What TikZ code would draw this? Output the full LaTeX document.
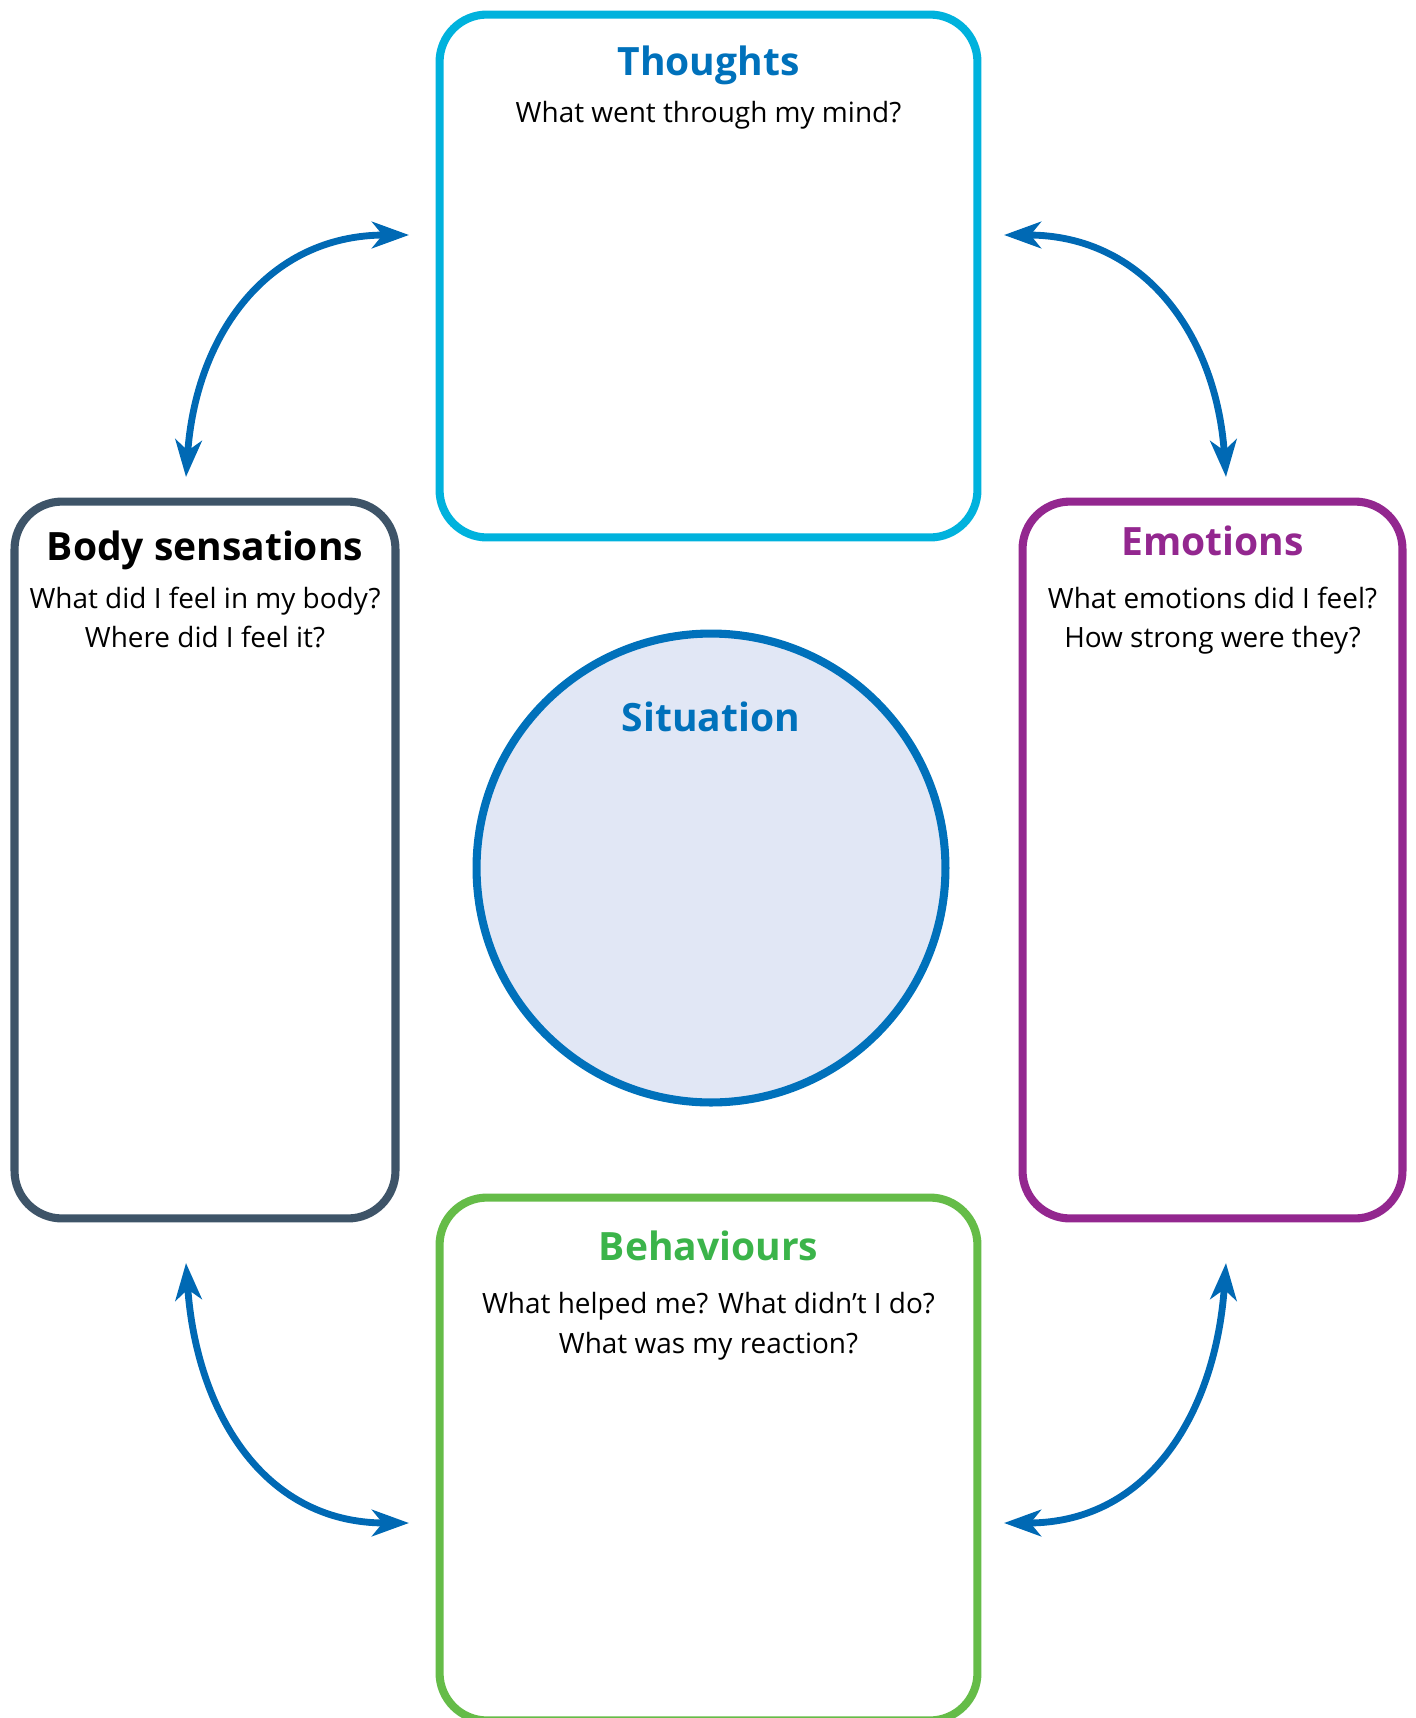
\documentclass[tikz,border=0pt]{standalone}
\usepackage{fontspec}
\setmainfont{Open Sans}
\usetikzlibrary{arrows.meta}
\definecolor{thoughtcol}{HTML}{00B2DD}
\definecolor{titleblue}{HTML}{0071BB}
\definecolor{bodycol}{HTML}{3E5468}
\definecolor{emocol}{HTML}{93278F}
\definecolor{behcol}{HTML}{65BC48}
\definecolor{behtext}{HTML}{3BB44A}
\definecolor{sitfill}{HTML}{E1E7F5}
\definecolor{arrowcol}{HTML}{0069B4}
\begin{document}
\begin{tikzpicture}[x=0.02cm,y=-0.02cm,line cap=round,line join=round,
	box/.style={draw,line width=4.6pt,rounded corners=0.95cm,minimum width=#1},
	ttl/.style={font=\fontsize{22.2}{27}\selectfont\bfseries,anchor=base,inner sep=0pt},
	qst/.style={font=\fontsize{15.9}{20}\selectfont,anchor=base,inner sep=0pt},
	link/.style={arrowcol,line width=3.9pt,looseness=1.1,{Stealth[length=21pt,width=15pt,inset=6pt]}-{Stealth[length=21pt,width=15pt,inset=6pt]}}]
	\useasboundingbox (0,0) rectangle (1416,1718);
	% boxes and circle
	\node[box=10.76cm,minimum height=10.46cm,draw=thoughtcol] (thoughts) at (708.5,276) {};
	\node[box=7.62cm,minimum height=14.34cm,draw=bodycol] (body) at (205,860) {};
	\node[box=7.6cm,minimum height=14.34cm,draw=emocol] (emotions) at (1212.5,860) {};
	\node[box=10.76cm,minimum height=10.46cm,draw=behcol] (behaviours) at (708.5,1459) {};
	\node[circle,draw=titleblue,fill=sitfill,line width=4.6pt,minimum size=9.38cm] (situation) at (711,868) {};
	% titles
	\foreach \x/\y/\col/\txt/\nm in {708.5/75/titleblue/Thoughts/tht,205/560/black/Body sensations/bdt,1212.5/555/emocol/Emotions/emt,708.5/1260/behtext/Behaviours/bht,711/731/titleblue/Situation/sit}
	\node[ttl,text=\col] (\nm) at (\x,\y) {\txt};
	% questions
	\foreach \x/\y/\txt/\nm in {708.5/122/What went through my mind?/thq,205/608/What did I feel in my body?/bdqa,205/647/Where did I feel it?/bdqb,1212.5/608/What emotions did I feel?/emqa,1212.5/647/How strong were they?/emqb,708.5/1313/What helped me? What didn’t I do?/bhqa,708.5/1353/What was my reaction?/bhqb}
	\node[qst] (\nm) at (\x,\y) {\txt};
	% arrows
	\foreach \a/\ax/\ay/\b/\bx/\by in {tla/409/235/tlb/186/477,tra/1004/235/trb/1226/477,bla/409/1523/blb/186/1263,bra/1004/1523/brb/1226/1263}{
		\coordinate (\a) at (\ax,\ay);
		\coordinate (\b) at (\bx,\by);
	}
	\draw[link] (tla) to[out=180,in=86] (tlb);
	\draw[link] (tra) to[out=0,in=94] (trb);
	\draw[link] (bla) to[out=180,in=-86] (blb);
	\draw[link] (bra) to[out=0,in=-94] (brb);
\end{tikzpicture}
\end{document}
